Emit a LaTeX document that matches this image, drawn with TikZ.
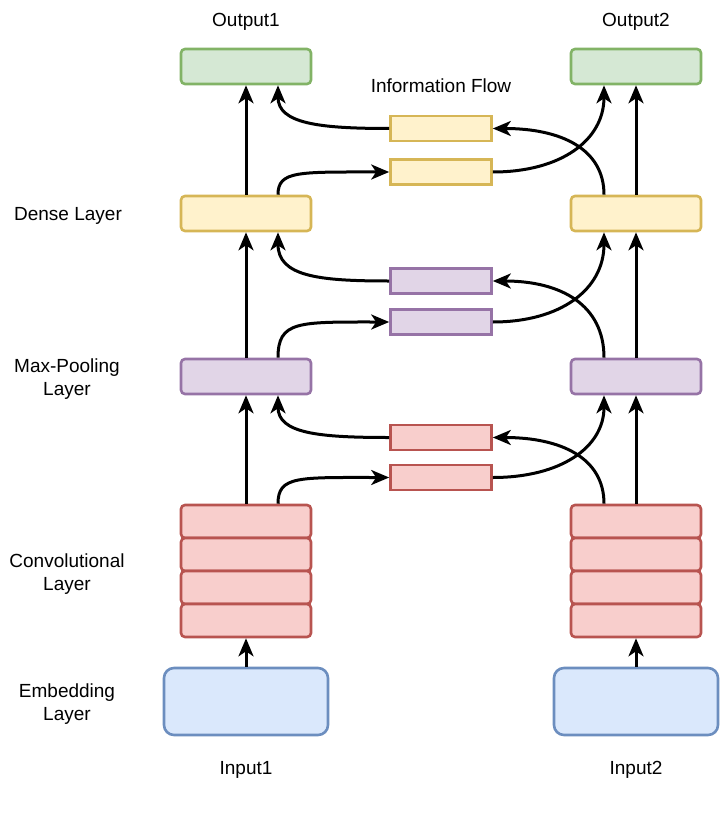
\documentclass[tikz,border=0pt]{standalone}
\usepackage{fontspec}
\setmainfont{Liberation Sans}
\usetikzlibrary{arrows.meta}
\definecolor{gfill}{HTML}{D5E8D4}\definecolor{gline}{HTML}{82B366}
\definecolor{yfill}{HTML}{FFF2CC}\definecolor{yline}{HTML}{D6B656}
\definecolor{pfill}{HTML}{E1D5E7}\definecolor{pline}{HTML}{9673A6}
\definecolor{rfill}{HTML}{F8CECC}\definecolor{rline}{HTML}{B85450}
\definecolor{bfill}{HTML}{DAE8FC}\definecolor{bline}{HTML}{6C8EBF}
\begin{document}
\begin{tikzpicture}[x=1pt,y=-1pt,
  box/.style={draw, line width=2.6pt, rounded corners=4pt, minimum width=130pt, minimum height=35pt, inner sep=0pt},
  cbox/.style={box, minimum height=33pt, fill=rfill, draw=rline},
  sbox/.style={draw, line width=2.6pt, minimum width=101pt, minimum height=25pt, inner sep=0pt},
  ebox/.style={draw=bline, fill=bfill, line width=2.6pt, rounded corners=10pt, minimum width=164pt, minimum height=67pt, inner sep=0pt},
  lbl/.style={font=\fontsize{19}{22.5}\selectfont, align=center, inner sep=0pt, yshift=-2pt},
  arr/.style={line width=3pt, -{Stealth[length=18pt,width=15pt,inset=5pt]}}]
\useasboundingbox (0,0) rectangle (720,824);
% labels
\node[lbl] (tout1) at (246,20) {Output1};
\node[lbl] (tout2) at (636,20) {Output2};
\node[lbl] (tinfo) at (441,84) {Information Flow};
\node[lbl] (tin1) at (246,768) {Input1};
\node[lbl] (tin2) at (636,768) {Input2};
\node[lbl] (ldense) at (68,214) {Dense Layer};
\node[lbl] (lmp) at (67,377) {Max-Pooling\\Layer};
\node[lbl] (lconv) at (67,572) {Convolutional\\Layer};
\node[lbl] (lemb) at (67,702) {Embedding\\Layer};
% left column
\node[box, fill=gfill, draw=gline] (out1) at (246,66.5) {};
\node[box, fill=yfill, draw=yline] (den1) at (246,213.5) {};
\node[box, fill=pfill, draw=pline] (mp1) at (246,376.5) {};
\node[cbox] (c1a) at (246,521.5) {};
\node[cbox] (c1b) at (246,554.5) {};
\node[cbox] (c1c) at (246,587.5) {};
\node[cbox] (c1d) at (246,620.5) {};
\node[ebox] (emb1) at (246,701.5) {};
% right column
\node[box, fill=gfill, draw=gline] (out2) at (636,66.5) {};
\node[box, fill=yfill, draw=yline] (den2) at (636,213.5) {};
\node[box, fill=pfill, draw=pline] (mp2) at (636,376.5) {};
\node[cbox] (c2a) at (636,521.5) {};
\node[cbox] (c2b) at (636,554.5) {};
\node[cbox] (c2c) at (636,587.5) {};
\node[cbox] (c2d) at (636,620.5) {};
\node[ebox] (emb2) at (636,701.5) {};
% middle small boxes
\node[sbox, fill=yfill, draw=yline] (ya) at (441,128.5) {};
\node[sbox, fill=yfill, draw=yline] (yb) at (441,172) {};
\node[sbox, fill=pfill, draw=pline] (pa) at (441,281) {};
\node[sbox, fill=pfill, draw=pline] (pb) at (441,322) {};
\node[sbox, fill=rfill, draw=rline] (ra) at (441,437.5) {};
\node[sbox, fill=rfill, draw=rline] (rb) at (441,477.5) {};
% vertical arrows
\foreach \c in {1,2}{
  \draw[arr] (emb\c.north) -- (c\c d.south);
  \draw[arr] (c\c a.north) -- (mp\c.south);
  \draw[arr] (mp\c.north) -- (den\c.south);
  \draw[arr] (den\c.north) -- (out\c.south);
}
% left curves
\draw[arr] ([xshift=32pt]c1a.north) .. controls +(0,-28) and +(-91,0) .. (rb.west);
\draw[arr] (ra.west) .. controls +(-71,0) and +(0,38) .. ([xshift=32pt]mp1.south);
\draw[arr] ([xshift=32pt]mp1.north) .. controls +(0,-37) and +(-91,0) .. (pb.west);
\draw[arr] (pa.west) .. controls +(-71,0) and +(0,44) .. ([xshift=32pt]den1.south);
\draw[arr] ([xshift=32pt]den1.north) .. controls +(0,-24) and +(-91,0) .. (yb.west);
\draw[arr] (ya.west) .. controls +(-71,0) and +(0,38) .. ([xshift=32pt]out1.south);
% right curves
\draw[arr] (rb.east) .. controls +(68,0) and +(0,52) .. ([xshift=-32pt]mp2.south);
\draw[arr] ([xshift=-32pt]c2a.north) .. controls +(0,-46) and +(68,0) .. (ra.east);
\draw[arr] (pb.east) .. controls +(68,0) and +(0,57) .. ([xshift=-32pt]den2.south);
\draw[arr] ([xshift=-32pt]mp2.north) .. controls +(0,-53) and +(68,0) .. (pa.east);
\draw[arr] (yb.east) .. controls +(68,0) and +(0,55) .. ([xshift=-32pt]out2.south);
\draw[arr] ([xshift=-32pt]den2.north) .. controls +(0,-46) and +(68,0) .. (ya.east);
\end{tikzpicture}
\end{document}
